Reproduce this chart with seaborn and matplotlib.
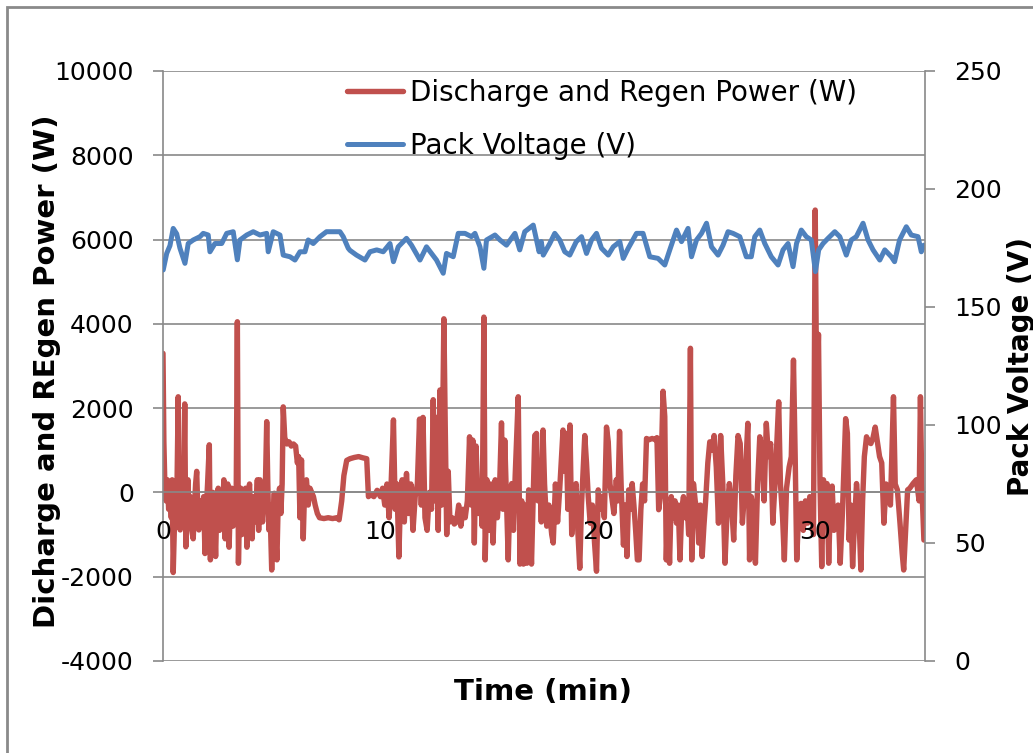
import matplotlib
matplotlib.use("Agg")
import matplotlib.pyplot as plt
import seaborn as sns
import pandas as pd
from matplotlib.patches import Rectangle

# ---------------- data ----------------
power_time = [
    0.00, 0.04, 0.08, 0.14, 0.20, 0.26, 0.32, 0.38, 0.42, 0.47,
    0.52, 0.58, 0.63, 0.70, 0.74, 0.79, 0.84, 0.89, 0.95, 1.00,
    1.05, 1.10, 1.15, 1.20, 1.26, 1.32, 1.39, 1.45, 1.50, 1.55,
    1.60, 1.65, 1.70, 1.75, 1.81, 1.87, 1.93, 1.99, 2.05, 2.13,
    2.18, 2.24, 2.30, 2.36, 2.42, 2.48, 2.54, 2.60, 2.66, 2.72,
    2.80, 2.86, 2.92, 2.98, 3.04, 3.10, 3.16, 3.22, 3.30, 3.36,
    3.42, 3.47, 3.52, 3.58, 3.63, 3.68, 3.74, 3.80, 3.86, 3.92,
    3.98, 4.04, 4.10, 4.16, 4.22, 4.28, 4.34, 4.40, 4.46, 4.52,
    4.58, 4.64, 4.70, 4.77, 4.82, 4.87, 4.92, 5.00, 5.06, 5.12,
    5.18, 5.24, 5.30, 5.36, 5.42, 5.48, 5.53, 5.60, 5.70, 5.80,
    5.90, 6.00, 6.10, 6.18, 6.24, 6.30, 6.37, 6.45, 6.52, 6.60,
    6.68, 6.76, 6.84, 6.92, 7.00, 7.10, 7.20, 7.40, 7.60, 7.80,
    8.00, 8.10, 8.22, 8.32, 8.45, 8.60, 8.80, 9.00, 9.20, 9.37,
    9.45, 9.55, 9.70, 9.85,
    10.00, 10.10, 10.20, 10.30, 10.40, 10.50, 10.60, 10.68, 10.76, 10.85,
    10.92, 11.00, 11.10, 11.20, 11.30, 11.40, 11.50, 11.60, 11.70, 11.80,
    11.88, 11.96, 12.05, 12.15, 12.25, 12.35, 12.43, 12.50, 12.58, 12.66,
    12.74, 12.82, 12.92, 12.98, 13.05, 13.12, 13.20, 13.30, 13.40, 13.50,
    13.60, 13.70, 13.80, 13.90, 14.00, 14.10, 14.18, 14.25, 14.32, 14.40,
    14.50, 14.60, 14.68, 14.76, 14.82, 14.90, 15.00, 15.08, 15.18, 15.28,
    15.38, 15.48, 15.57, 15.64, 15.72, 15.80, 15.88, 15.96, 16.04, 16.12,
    16.20, 16.34, 16.42, 16.50, 16.58, 16.66, 16.74, 16.82, 16.95, 17.10,
    17.18, 17.25, 17.32, 17.40, 17.48, 17.55, 17.65, 17.75, 17.88, 17.95,
    18.05, 18.15, 18.25, 18.40, 18.48, 18.55, 18.62, 18.72, 18.80, 18.90,
    19.00, 19.08, 19.17, 19.25, 19.40, 19.48, 19.56, 19.65, 19.75, 19.85,
    19.94, 20.02, 20.10, 20.20, 20.30, 20.40, 20.48, 20.56, 20.64, 20.74,
    20.85, 20.92, 21.00, 21.08, 21.18, 21.26, 21.34, 21.42, 21.50, 21.58,
    21.66, 21.74, 21.82, 21.90, 21.98, 22.06, 22.15, 22.24, 22.35, 22.50,
    22.65, 22.72, 22.80, 22.88, 23.00, 23.08, 23.15, 23.22, 23.30, 23.38,
    23.46, 23.55, 23.62, 23.70, 23.78, 23.86, 23.94, 24.02, 24.10, 24.18,
    24.26, 24.32, 24.40, 24.48, 24.56, 24.64, 24.72, 24.80, 24.88, 24.96,
    25.06, 25.15, 25.25, 25.35, 25.45, 25.55, 25.65, 25.75, 25.85, 25.95,
    26.05, 26.15, 26.25, 26.35, 26.45, 26.55, 26.65, 26.75, 26.90, 26.98,
    27.06, 27.15, 27.25, 27.35, 27.45, 27.55, 27.65, 27.75, 27.85, 27.95,
    28.05, 28.15, 28.32, 28.40, 28.50, 28.58, 28.68, 28.80, 28.90, 29.00,
    29.08, 29.15, 29.25, 29.35, 29.45, 29.55, 29.65, 29.75, 29.85, 29.92,
    30.00, 30.07, 30.15, 30.22, 30.30, 30.38, 30.46, 30.54, 30.62, 30.70,
    30.78, 30.86, 30.95, 31.05, 31.15, 31.25, 31.40, 31.48, 31.56, 31.64,
    31.72, 31.80, 31.90, 32.00, 32.10, 32.18, 32.26, 32.36, 32.46, 32.56,
    32.66, 32.76, 32.86, 32.96, 33.06, 33.16, 33.26, 33.36, 33.46, 33.60,
    33.68, 33.78, 33.90, 34.00, 34.07, 34.15, 34.25, 34.35, 34.50, 34.65,
    34.78, 34.84, 34.90, 35.00,
]
power_w = [
    3300, 1200, 300, -200, 300, -400, 200, -600, 300, -1900,
    -900, -300, -400, 2270, -300, -890, 300, -500, -100, 2100,
    -1290, -200, 300, -700, -100, -900, -1100, -300, 200, 500,
    -400, -890, -200, -350, -800, -100, -1450, -400, 200, 1130,
    -1600, -300, 0, -600, -1520, -200, 100, -900, -100, -600,
    300, -1100, -100, 200, -1300, -200, 100, -800, -200, -600,
    4050, -1680, -300, 100, -1000, -200, -600, 100, -1300, -200,
    200, -600, -1100, -100, -700, -300, 300, -900, 300, -300,
    -700, -200, -100, 1680, 200, -890, -300, -1840, -600, -20,
    -1000, -1600, -200, 100, -500, 200, 2030, 1300, 1150, 1200,
    1100, 1150, 1100, 700, 850, -600, 770, -1100, 200, 300,
    -300, 100, 0, -100, -300, -500, -600, -620, -600, -620,
    -600, -650, -200, 400, 760, 800, 830, 850, 820, 800,
    -100, -50, -100, 50,
    -100, 100, -300, 200, -600, 300, 1720, -400, 200, -1530,
    -200, 300, -700, 450, -500, 200, -900, -100, 200, 1740,
    -300, 1780, -600, -900, 0, -400, 2200, -200, 1780, -900,
    2430, -300, 4120, 1650, -1000, 500, -700, -600, -750, -700,
    -300, -800, -400, -600, -200, 1320, -300, 1240, -1200, 1100,
    -500, 200, -800, 4160, -1600, 300, -900, 200, -1200, 300,
    -600, 100, 1650, -400, 1240, -200, -1600, 0, 210, -900,
    400, 2270, -1700, -200, -1700, -300, -1680, 60, -1700, 1350,
    1400, -200, 600, -700, 1480, 200, -800, -300, -1000, -1200,
    200, -700, 100, 1480, 500, 1400, -400, 1600, -1000, 0,
    210, -900, -1800, -300, 1350, 700, -100, -730, -300, -1200,
    -1870, 60, -400, -100, -600, 1550, 1200, 200, -100, -500,
    300, -200, 1450, 60, -1250, -300, -1520, 60, -400, 210,
    -300, -900, -1600, -1600, -410, 200, -200, 1280, 1250, 1280,
    1250, 1300, -410, -100, 2400, 1800, -1600, -400, -1680, -100,
    -600, -200, -730, -300, -1600, -400, -100, -600, -200, -1000,
    3420, -1600, 210, -200, -410, -1200, -300, -1520, -800, -200,
    700, 1200, 1000, 1350, 600, -730, 1350, 200, -1680, -400,
    210, -260, -1130, 400, 1350, 1160, -730, 0, 1640, -1600,
    -100, -400, -1680, 200, 1320, 1000, -200, 1640, 850, 1160,
    -730, 200, 2150, 210, -600, -1600, 100, 600, 850, 3140,
    800, -1600, -300, -260, -900, -200, -730, -100, -200, -1000,
    6700, 2000, 3750, 210, -1760, 300, -500, 210, -1680, -200,
    150, -900, -730, -300, -1680, -500, 1750, 1400, -1130, -300,
    -1760, -800, 210, -400, -1840, -200, 850, 1320, 1200, 1160,
    1300, 1550, 1200, 850, 700, -730, 200, 60, -300, 2270,
    200, 60, -730, -1440, -1840, -1000, 60, 100, 210, 300,
    -200, 2270, 210, -1130,
]

volt_time = [
    0.01, 0.17, 0.32, 0.47, 0.63, 0.78, 1.01, 1.16, 1.39, 1.70,
    1.85, 2.08, 2.16, 2.39, 2.70, 2.93, 3.23, 3.42, 3.54, 3.85,
    4.15, 4.46, 4.77, 4.84, 5.07, 5.38, 5.53, 5.84, 6.07, 6.30,
    6.53, 6.68, 6.91, 7.22, 7.52, 8.14, 8.29, 8.52, 8.60, 8.90,
    9.29, 9.52, 9.83, 10.13, 10.44, 10.60, 10.82, 11.20, 11.43, 11.82,
    12.12, 12.58, 12.89, 13.04, 13.35, 13.58, 13.89, 14.19, 14.35, 14.58,
    14.76, 14.88, 15.27, 15.50, 15.80, 16.19, 16.41, 16.64, 17.03, 17.30,
    17.40, 17.49, 17.79, 18.02, 18.25, 18.48, 18.71, 19.01, 19.25, 19.48,
    19.71, 19.94, 20.17, 20.48, 20.71, 21.01, 21.17, 21.40, 21.78, 22.08,
    22.39, 22.77, 23.08, 23.31, 23.62, 23.85, 24.15, 24.31, 24.54, 24.77,
    25.00, 25.23, 25.53, 25.76, 25.99, 26.22, 26.53, 26.83, 27.06, 27.22,
    27.45, 27.68, 27.98, 28.29, 28.52, 28.75, 28.98, 29.14, 29.36, 29.59,
    29.82, 30.01, 30.16, 30.36, 30.59, 30.90, 31.13, 31.43, 31.66, 31.89,
    32.20, 32.43, 32.66, 32.97, 33.20, 33.50, 33.65, 33.88, 34.19, 34.42,
    34.73, 34.88, 35.00,
]
volt_v = [
    165.7, 172.7, 176.0, 183.3, 181.0, 174.9, 168.5, 176.9, 178.4, 179.8,
    181.2, 180.5, 173.4, 176.9, 176.9, 181.2, 181.9, 170.0, 178.4, 180.5,
    181.9, 180.5, 181.2, 173.4, 181.9, 180.5, 172.0, 171.3, 169.9, 173.4,
    173.4, 178.4, 176.9, 179.8, 181.9, 181.9, 179.8, 174.9, 174.0, 172.0,
    169.9, 173.4, 174.2, 173.4, 176.9, 169.2, 175.5, 179.1, 176.2, 169.9,
    175.5, 169.9, 164.3, 172.7, 171.3, 181.2, 181.2, 179.8, 181.2, 175.5,
    166.4, 178.4, 180.5, 178.4, 176.2, 181.2, 174.2, 181.9, 184.7, 173.4,
    177.7, 172.0, 176.9, 181.2, 178.4, 173.4, 172.0, 177.7, 179.8, 172.7,
    178.4, 181.2, 174.9, 172.0, 175.5, 177.7, 170.6, 174.9, 181.2, 181.2,
    171.3, 170.6, 167.8, 174.2, 182.6, 177.7, 183.3, 171.3, 178.4, 181.2,
    185.5, 175.5, 172.0, 176.2, 181.9, 181.2, 179.8, 171.3, 171.3, 179.8,
    182.6, 176.9, 171.3, 167.8, 174.2, 176.9, 167.1, 176.9, 182.6, 179.8,
    178.4, 165.0, 174.2, 176.9, 179.1, 181.9, 179.8, 172.0, 178.4, 179.8,
    185.5, 178.4, 174.2, 169.9, 174.2, 171.3, 169.2, 178.4, 184.0, 180.5,
    179.8, 173.4, 176.2,
]

x_ticks = [0, 10, 20, 30]
power_ticks = [-4000, -2000, 0, 2000, 4000, 6000, 8000, 10000]
volt_ticks = [0, 50, 100, 150, 200, 250]

power_label = "Discharge and Regen Power (W)"
volt_label = "Pack Voltage (V)"
left_axis_title = "Dicharge and REgen Power (W)"
right_axis_title = "Pack Voltage (V)"
x_axis_title = "Time (min)"

# ---------------- style ----------------
sns.set_style("white")
plt.rcParams["font.family"] = ["DejaVu Sans"]
plt.rcParams["text.color"] = "black"

RED = "#C0504D"
BLUE = "#4F81BD"
GRID = "#898989"
W, H = 1033, 753
TICK_FS = 18
LEG_FS = 20

power_df = pd.DataFrame({"time": power_time, "power": power_w})
volt_df = pd.DataFrame({"time": volt_time, "volt": volt_v})

fig = plt.figure(figsize=(W / 100, H / 100), dpi=100)
fig.patch.set_facecolor("white")
ax = fig.add_axes([163 / W, 1 - 661 / H, (925 - 163) / W, (661 - 71) / H])
ax2 = ax.twinx()

sns.lineplot(data=power_df, x="time", y="power", ax=ax, color=RED,
             linewidth=3.9, legend=False, sort=False, estimator=None)
sns.lineplot(data=volt_df, x="time", y="volt", ax=ax2, color=BLUE,
             linewidth=3.6, legend=False, sort=False, estimator=None)

ax.set_xlim(0, 35.05)
ax.set_ylim(-4000, 10000)
ax2.set_ylim(0, 250)

ax.set_yticks(power_ticks)
ax.set_yticklabels([str(v) for v in power_ticks])
ax2.set_yticks(volt_ticks)
ax2.set_yticklabels([str(v) for v in volt_ticks])
ax.set_xticks(x_ticks)
ax.set_xticklabels([str(v) for v in x_ticks])

ax.set_xlabel("")
ax.set_ylabel("")
ax2.set_ylabel("")

ax.yaxis.grid(True, color=GRID, linewidth=1.2)
ax.xaxis.grid(False)
ax2.grid(False)

for a in (ax, ax2):
    a.spines["top"].set_visible(False)
    for s in ("left", "right"):
        a.spines[s].set_color(GRID)
        a.spines[s].set_linewidth(1.2)
ax.spines["right"].set_visible(False)
ax2.spines["left"].set_visible(False)
ax2.spines["bottom"].set_visible(False)
ax.spines["bottom"].set_position(("data", 0))
ax.spines["bottom"].set_color(GRID)
ax.spines["bottom"].set_linewidth(1.2)

ax.tick_params(axis="y", which="both", direction="out", length=7, width=1.2,
               color=GRID, labelcolor="black", labelsize=TICK_FS, pad=14, left=True)
ax2.tick_params(axis="y", which="both", direction="out", length=7, width=1.2,
                color=GRID, labelcolor="black", labelsize=TICK_FS, pad=14, right=True)
ax.tick_params(axis="x", length=0, labelsize=TICK_FS, labelcolor="black", pad=20)
ax.xaxis.set_zorder(3)

# axis titles
fig.text(47 / W, 1 - 371 / H, left_axis_title, rotation=90, ha="center", va="center",
         fontsize=21, fontweight="bold")
fig.text(1021 / W, 1 - 367 / H, right_axis_title, rotation=90, ha="center", va="center",
         fontsize=20, fontweight="bold")
fig.text(543 / W, 1 - 692 / H, x_axis_title, ha="center", va="center",
         fontsize=21, fontweight="bold")

# legend
handles = [ax.get_lines()[0], ax2.get_lines()[0]]
fig.legend(handles, [power_label, volt_label], loc="upper left",
           bbox_to_anchor=(347 / W, 1 - 79 / H), frameon=False, fontsize=LEG_FS,
           handlelength=2.0, handletextpad=0.25, labelspacing=0.9,
           borderpad=0, borderaxespad=0)

# outer chart frame
fig.add_artist(Rectangle((7 / W, -0.05), 1.2, 1.05 - 7 / H, transform=fig.transFigure,
                         fill=False, edgecolor="#8a8a8a", linewidth=2.0, clip_on=False))

fig.savefig("out.png", dpi=100, facecolor="white")
